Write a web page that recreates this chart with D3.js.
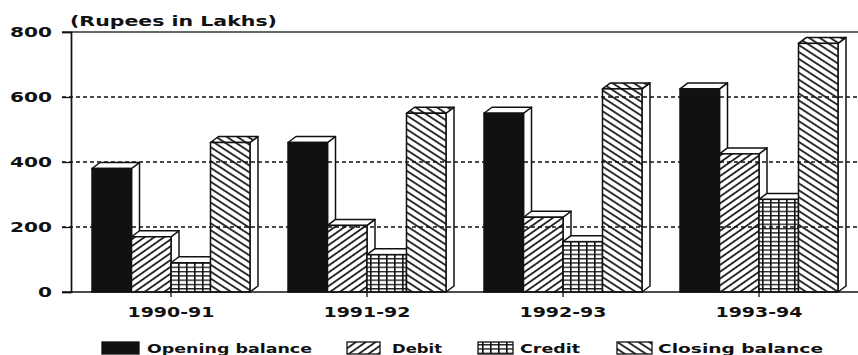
<!DOCTYPE html>
<html><head><meta charset="utf-8">
<script src="https://cdn.jsdelivr.net/npm/d3@7"></script>
<style>
html,body{margin:0;padding:0;background:#fff;}
svg{display:block;}
text{font-family:"DejaVu Sans",sans-serif;font-weight:bold;fill:#111;}
</style></head>
<body>
<svg id="c" width="858" height="355"></svg>
<script>
const years = ["1990-91","1991-92","1992-93","1993-94"];
const seriesNames = ["Opening balance","Debit","Credit","Closing balance"];
const opening = [380,460,550,625];
const debit   = [170,205,230,425];
const credit  = [90,115,155,285];
const closing = [460,550,625,765];
const yTicks = [0,200,400,600,800];
const unitLabel = "(Rupees in Lakhs)";

const seriesValues = [opening, debit, credit, closing];
const fills = ["#111","url(#pDebit)","url(#pCredit)","url(#pClosing)"];

const svg = d3.select("#c");
const W = 858, axisX = 71, gridLeft = 62;
const y = d3.scaleLinear().domain([0,800]).range([292,32]);
const x0 = d3.scaleBand().domain(years).range([73,857]).paddingInner(0.194).paddingOuter(0.097);
const x1 = d3.scaleBand().domain(seriesNames).range([0,x0.bandwidth()]).padding(0);
const dx = 8, dy = 6;

// patterns
const defs = svg.append("defs");
const pd = defs.append("pattern").attr("id","pDebit").attr("patternUnits","userSpaceOnUse")
  .attr("width",10).attr("height",5.6).attr("patternTransform","rotate(-35)");
pd.append("rect").attr("width",10).attr("height",5.6).attr("fill","#fff");
pd.append("line").attr("x1",0).attr("x2",10).attr("y1",2.8).attr("y2",2.8).attr("stroke","#111").attr("stroke-width",1.7);
const pc = defs.append("pattern").attr("id","pClosing").attr("patternUnits","userSpaceOnUse")
  .attr("width",10).attr("height",5.8).attr("patternTransform","rotate(33)");
pc.append("rect").attr("width",10).attr("height",5.8).attr("fill","#fff");
pc.append("line").attr("x1",0).attr("x2",10).attr("y1",2.9).attr("y2",2.9).attr("stroke","#111").attr("stroke-width",1.7);
const pg = defs.append("pattern").attr("id","pCredit").attr("patternUnits","userSpaceOnUse")
  .attr("width",8).attr("height",4.3).attr("x",2);
pg.append("rect").attr("width",8).attr("height",4.3).attr("fill","#fff");
pg.append("line").attr("x1",0.8).attr("x2",0.8).attr("y1",0).attr("y2",4.3).attr("stroke","#111").attr("stroke-width",1.6);
pg.append("line").attr("x1",0).attr("x2",8).attr("y1",0.7).attr("y2",0.7).attr("stroke","#111").attr("stroke-width",1.3);

// title
svg.append("text").attr("x",70).attr("y",26).attr("font-size",14)
  .attr("textLength",207).attr("lengthAdjust","spacingAndGlyphs").text(unitLabel);

// bars
const g = svg.append("g");
years.forEach((yr,i) => {
  seriesNames.forEach((s,j) => {
    const v = seriesValues[j][i];
    const bx = x0(yr) + x1(s), bw = x1.bandwidth();
    const yt = y(v), yb = y(0);
    g.append("polygon")
      .attr("points",[[bx+bw,yt],[bx+bw+dx,yt-dy],[bx+bw+dx,yb-dy],[bx+bw,yb]].map(p=>p.join(",")).join(" "))
      .attr("fill","#fff").attr("stroke","#111").attr("stroke-width",1.5).attr("stroke-linejoin","round");
    g.append("polygon")
      .attr("points",[[bx,yt],[bx+bw,yt],[bx+bw+dx,yt-dy],[bx+dx,yt-dy]].map(p=>p.join(",")).join(" "))
      .attr("fill", j===3 ? fills[3] : "#fff").attr("stroke","#111").attr("stroke-width",1.5).attr("stroke-linejoin","round");
    g.append("rect").attr("x",bx).attr("y",yt).attr("width",bw).attr("height",yb-yt)
      .attr("fill",fills[j]).attr("stroke","#111").attr("stroke-width",1.5);
  });
});

// gridlines
const grid = svg.append("g");
yTicks.forEach(t => {
  grid.append("line").attr("x1",gridLeft).attr("x2",W).attr("y1",y(t)).attr("y2",y(t))
    .attr("stroke", t===800 ? "#2d3a2d" : "#111")
    .attr("stroke-width", t===0 || t===800 ? 1.7 : 1.3)
    .attr("stroke-dasharray", (t===0 || t===800) ? null : "4,3");
});

// y axis
const yAxis = svg.append("g").attr("transform",`translate(${axisX},0)`)
  .call(d3.axisLeft(y).tickValues(yTicks).tickSize(9).tickPadding(10).tickFormat(d3.format("d")));
yAxis.select(".domain").attr("stroke","#111").attr("stroke-width",1.7);
yAxis.selectAll(".tick line").attr("stroke","#111").attr("stroke-width",1.3);
yAxis.selectAll(".tick text").attr("font-size",13.5).attr("font-family","DejaVu Sans").attr("font-weight","bold")
  .attr("fill","#111").attr("x",-19)
  .each(function(d){ d3.select(this).attr("textLength", String(d).length*14).attr("lengthAdjust","spacingAndGlyphs"); });

// x axis
const xAxis = svg.append("g").attr("transform",`translate(0,${y(0)})`)
  .call(d3.axisBottom(x0).tickSize(5).tickPadding(8).tickSizeOuter(0));
xAxis.select(".domain").remove();
xAxis.selectAll(".tick line").attr("stroke","#111").attr("stroke-width",1.3).attr("y1",-4);
xAxis.selectAll(".tick text").attr("font-size",14.5).attr("font-family","DejaVu Sans").attr("font-weight","bold")
  .attr("fill","#111").attr("dy",null).attr("y",25)
  .attr("textLength",87).attr("lengthAdjust","spacingAndGlyphs");

// legend
const legendItems = [
  {sx:102, sw:37, tx:147, tw:165},
  {sx:347, sw:33, tx:392, tw:50},
  {sx:478, sw:35, tx:520, tw:60},
  {sx:617, sw:35, tx:658, tw:165}
];
const lg = svg.append("g");
seriesNames.forEach((s,j) => {
  const L = legendItems[j];
  lg.append("rect").attr("x",L.sx).attr("y",342).attr("width",L.sw).attr("height",12)
    .attr("fill",fills[j]).attr("stroke","#111").attr("stroke-width",1.3);
  lg.append("text").attr("x",L.tx).attr("y",353).attr("font-size",12.5)
    .attr("textLength",L.tw).attr("lengthAdjust","spacingAndGlyphs").text(s);
});
</script>
</body></html>
